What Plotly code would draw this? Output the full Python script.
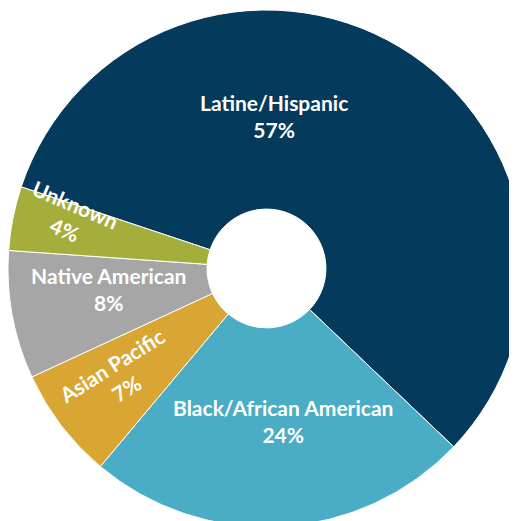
import math
import plotly.graph_objects as go

categories = ["Latine/Hispanic", "Black/African American", "Asian Pacific", "Native American", "Unknown"]
values = [57, 24, 7, 8, 4]
colors = ["#043A5B", "#4BACC6", "#D9A633", "#A6A6A6", "#A5AE3A"]

W, H = 517, 521
# label placement (pixel centre of the two-line label, text angle) - styling only
label_pos = [(266, 115, 0), (275, 420, 0), (114, 375, -32), (100, 288, 0), (60, 215, 23)]
SHIFT = 7  # visual correction of text box centre
FONT = dict(family="Lato, Calibri, sans-serif", size=21, color="white")

fig = go.Figure()
fig.add_trace(go.Pie(
    labels=categories, values=values, sort=False, direction="clockwise",
    rotation=-71.6, hole=0.23, textinfo="none",
    marker=dict(colors=colors, line=dict(color="white", width=1)),
    showlegend=False, domain=dict(x=[0, 1], y=[0, 1]),
))

annotations = []
for cat, val, (px, py, ang) in zip(categories, values, label_pos):
    a = math.radians(ang)
    x = px + SHIFT * math.sin(a)
    y = py - SHIFT * math.cos(a)
    annotations.append(dict(
        text=f"<b>{cat}</b><br><b>{val}%</b>", x=x / W, y=1 - y / H,
        xref="paper", yref="paper", xanchor="center", yanchor="middle",
        showarrow=False, textangle=ang, borderpad=0, font=FONT, align="center",
    ))

fig.update_layout(
    width=W, height=H, margin=dict(l=0, r=0, t=0, b=0),
    paper_bgcolor="white", plot_bgcolor="white", annotations=annotations,
)
fig.write_html("out.html")
